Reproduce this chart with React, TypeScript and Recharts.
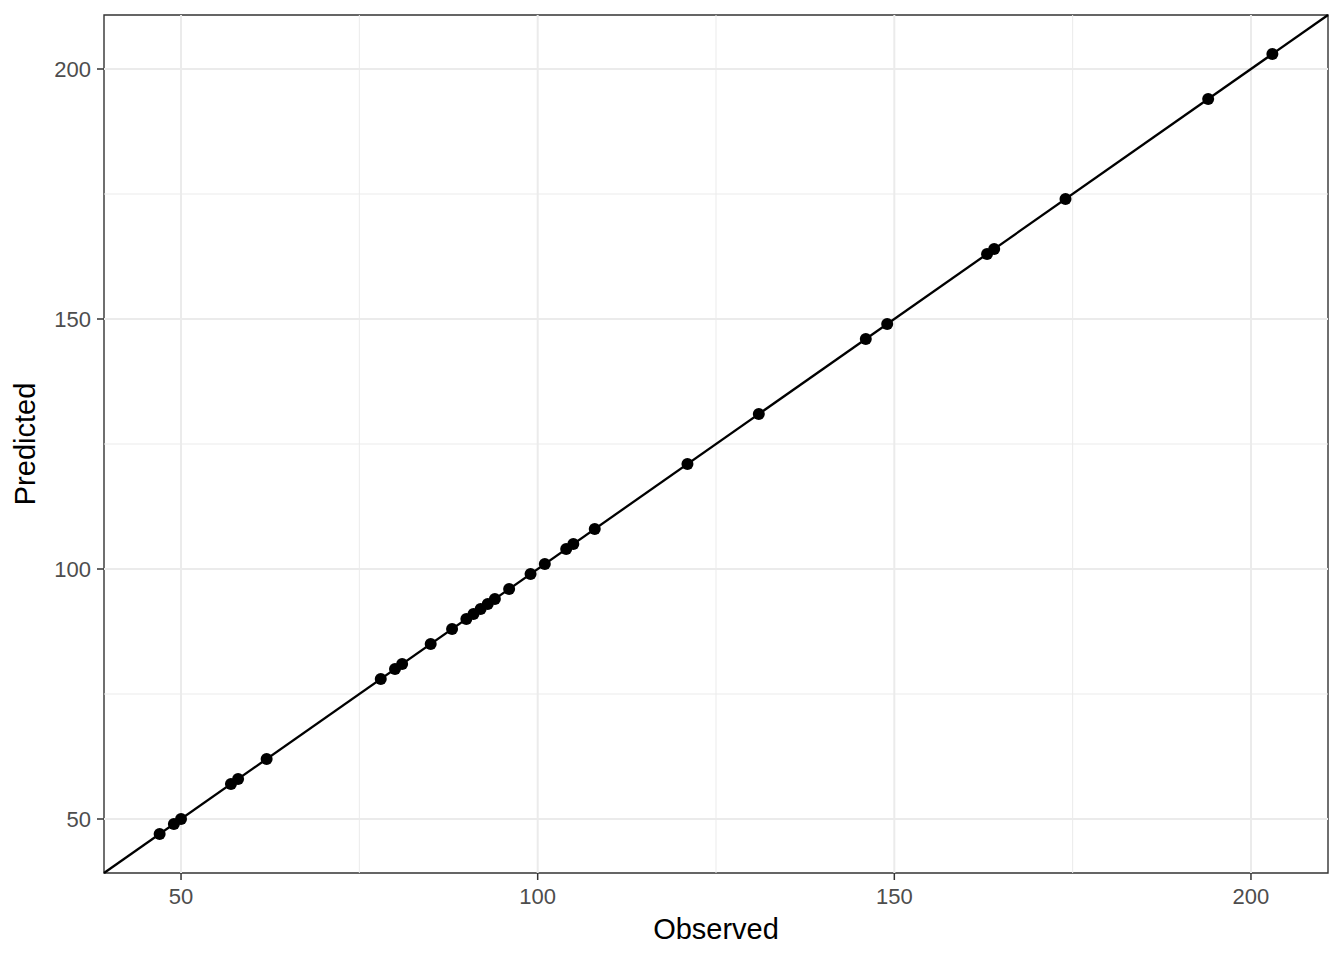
import { ScatterChart, Scatter, XAxis, YAxis, ReferenceLine, ReferenceArea } from "recharts";

const observed = [47, 49, 50, 57, 58, 62, 78, 80, 81, 85, 88, 90, 91, 92, 93, 94, 96, 99, 101, 104, 105, 108, 121, 131, 146, 149, 163, 164, 174, 194, 203];
const predicted = [47, 49, 50, 57, 58, 62, 78, 80, 81, 85, 88, 90, 91, 92, 93, 94, 96, 99, 101, 104, 105, 108, 121, 131, 146, 149, 163, 164, 174, 194, 203];
const majorTicks = [50, 100, 150, 200];
const minorTicks = [75, 125, 175];

const points = observed.map((x, i) => ({ x, y: predicted[i] }));
const lo = 39.2;
const hi = 210.8;

const font = '"Liberation Sans", Arial, sans-serif';

const Dot = (props: any) => <circle cx={props.cx} cy={props.cy} r={6} fill="#000" />;

export default function App() {
    return (
        <div style={{ position: "absolute", left: 0, top: 0, background: "#fff" }}>
            <ScatterChart
                width={1344}
                height={960}
                margin={{ top: 15, right: 16, bottom: 0, left: 0 }}
                style={{ fontFamily: font }}
            >
                <XAxis
                    type="number"
                    dataKey="x"
                    domain={[lo, hi]}
                    ticks={majorTicks}
                    allowDataOverflow
                    height={87}
                    axisLine={false}
                    tickSize={7}
                    tickMargin={8}
                    tickLine={{ stroke: "#333", strokeWidth: 1.5 }}
                    tick={{ fill: "#4D4D4D", fontSize: 22, fontFamily: font }}
                    label={{ value: "Observed", position: "insideBottom", offset: 21, style: { fontSize: 29, fill: "#000", fontFamily: font } }}
                />
                <YAxis
                    type="number"
                    dataKey="y"
                    domain={[lo, hi]}
                    ticks={majorTicks}
                    allowDataOverflow
                    width={104}
                    axisLine={false}
                    tickSize={7}
                    tickMargin={6}
                    tickLine={{ stroke: "#333", strokeWidth: 1.5 }}
                    tick={{ fill: "#4D4D4D", fontSize: 22, fontFamily: font }}
                    label={{ value: "Predicted", angle: -90, position: "insideLeft", offset: 25, style: { fontSize: 29, fill: "#000", textAnchor: "middle", fontFamily: font } }}
                />
                {minorTicks.map((v) => (
                    <ReferenceLine key={"mx" + v} x={v} stroke="#EBEBEB" strokeWidth={1} />
                ))}
                {minorTicks.map((v) => (
                    <ReferenceLine key={"my" + v} y={v} stroke="#EBEBEB" strokeWidth={1} />
                ))}
                {majorTicks.map((v) => (
                    <ReferenceLine key={"Mx" + v} x={v} stroke="#EBEBEB" strokeWidth={2} />
                ))}
                {majorTicks.map((v) => (
                    <ReferenceLine key={"My" + v} y={v} stroke="#EBEBEB" strokeWidth={2} />
                ))}
                <ReferenceLine
                    segment={[{ x: lo, y: lo }, { x: hi, y: hi }]}
                    stroke="#000"
                    strokeWidth={2.3}
                />
                <Scatter data={points} shape={Dot} isAnimationActive={false} />
                <ReferenceArea x1={lo} x2={hi} y1={lo} y2={hi} fill="none" stroke="#333" strokeWidth={1.4} fillOpacity={0} />
            </ScatterChart>
        </div>
    );
}
